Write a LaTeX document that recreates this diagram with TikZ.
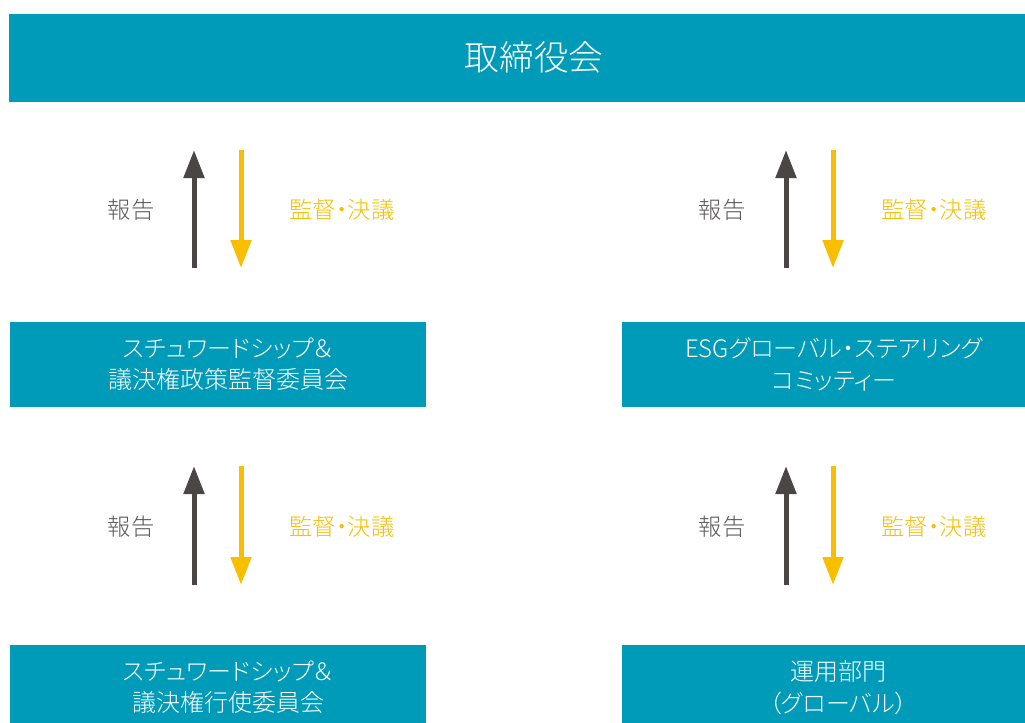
\documentclass[tikz,border=0pt]{standalone}
\usepackage{fontspec}
\IfFontExistsTF{Noto Sans CJK JP Light}
  {\setmainfont{Noto Sans CJK JP Light}[RawFeature=+palt]}
  {\setmainfont{Noto Sans CJK JP}[RawFeature=+palt]}
\usetikzlibrary{arrows.meta}
\definecolor{teal}{HTML}{009BB8}
\definecolor{upgray}{HTML}{4B4646}
\definecolor{downyel}{HTML}{F8BF00}
\definecolor{labgray}{HTML}{5A5757}
\tikzset{
  box/.style={fill=teal, draw=none, text=white, align=center, font=\fontsize{18}{23.5}\selectfont, inner ysep=0pt},
  lbox/.style={box, minimum width=416*0.75pt, minimum height=85*0.75pt, inner xsep=0pt, xshift=0pt},
  uparr/.style={draw=upgray, line width=3.75pt, -{Triangle[length=21pt,width=15pt]}},
  downarr/.style={draw=downyel, line width=3.75pt, -{Triangle[length=21pt,width=15pt]}},
  replab/.style={text=labgray, font=\fontsize{17.5}{20}\selectfont},
  suplab/.style={text=downyel, font=\fontsize{17.5}{20}\selectfont},
}
\begin{document}
\begin{tikzpicture}[x=0.75pt,y=-0.75pt]
\useasboundingbox (0,0) rectangle (1025,722);
\clip (0,0) rectangle (1025,722);
% boxes
\node[box, minimum width=1050*0.75pt, minimum height=88*0.75pt, font=\fontsize{26}{30}\selectfont] (board) at (534,57.5) {取締役会};
\node[box, minimum width=416*0.75pt, minimum height=85*0.75pt, inner xsep=0pt, append after command={}] (svc) at (218,364.5) {};
\node[text=white, align=center, font=\fontsize{18}{23.5}\selectfont] (svct) at (228,364.5) {スチュワードシップ＆\\議決権政策監督委員会};
\node[box, minimum width=403*0.75pt, minimum height=85*0.75pt] (esg) at (823.5,364.5) {};
\node[text=white, align=center, font=\fontsize{18}{23.5}\selectfont] (esgt) at (834,364.5) {ESGグローバル・ステアリング\\コミッティー};
\node[box, minimum width=416*0.75pt, minimum height=85*0.75pt] (sec) at (218,687.5) {};
\node[text=white, align=center, font=\fontsize{18}{23.5}\selectfont] (sect) at (228,687.5) {スチュワードシップ＆\\議決権行使委員会};
\node[box, minimum width=403*0.75pt, minimum height=85*0.75pt] (ops) at (823.5,687.5) {};
\node[text=white, align=center, font=\fontsize{18}{23.5}\selectfont] (opst) at (838,687.5) {運用部門\\（グローバル）};
% arrow end points
\coordinate (l1u0) at (194,268); \coordinate (l1u1) at (194,150);
\coordinate (l1d0) at (241,150); \coordinate (l1d1) at (241,268);
\coordinate (r1u0) at (786,268); \coordinate (r1u1) at (786,150);
\coordinate (r1d0) at (833,150); \coordinate (r1d1) at (833,268);
\coordinate (l2u0) at (194,585); \coordinate (l2u1) at (194,466);
\coordinate (l2d0) at (241,466); \coordinate (l2d1) at (241,585);
\coordinate (r2u0) at (786,585); \coordinate (r2u1) at (786,466);
\coordinate (r2d0) at (833,466); \coordinate (r2d1) at (833,585);
\draw[uparr] (l1u0) -- (l1u1);
\draw[downarr] (l1d0) -- (l1d1);
\draw[uparr] (r1u0) -- (r1u1);
\draw[downarr] (r1d0) -- (r1d1);
\draw[uparr] (l2u0) -- (l2u1);
\draw[downarr] (l2d0) -- (l2d1);
\draw[uparr] (r2u0) -- (r2u1);
\draw[downarr] (r2d0) -- (r2d1);
% labels
\node[replab] (rl1) at (131,210) {報告};
\node[suplab] (sl1) at (342,210) {監督・決議};
\node[replab] (rr1) at (722,210) {報告};
\node[suplab] (sr1) at (934,210) {監督・決議};
\node[replab] (rl2) at (131,527) {報告};
\node[suplab] (sl2) at (342,527) {監督・決議};
\node[replab] (rr2) at (722,527) {報告};
\node[suplab] (sr2) at (934,527) {監督・決議};
\end{tikzpicture}
\end{document}
